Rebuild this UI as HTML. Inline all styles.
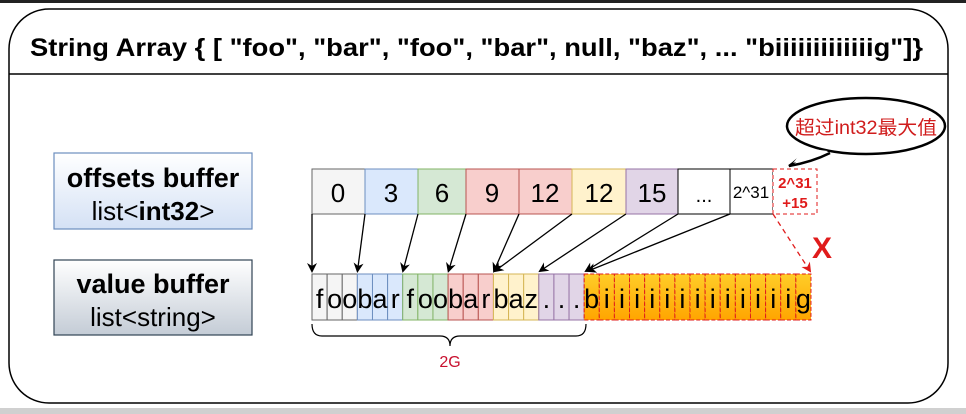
<!DOCTYPE html>
<html><head><meta charset="utf-8"><style>
html,body{margin:0;padding:0;background:#fff;}
svg{display:block;font-family:"Liberation Sans","Noto Sans CJK SC",sans-serif;}
</style></head><body>
<svg width="966" height="414" viewBox="0 0 966 414" xmlns="http://www.w3.org/2000/svg">
<defs>
<linearGradient id="gb" x1="0" y1="0" x2="0" y2="1"><stop offset="0" stop-color="#ffffff"/><stop offset="1" stop-color="#d4e1f5"/></linearGradient>
<linearGradient id="gg" x1="0" y1="0" x2="0" y2="1"><stop offset="0" stop-color="#ffffff"/><stop offset="1" stop-color="#c4ccd6"/></linearGradient>
<linearGradient id="go" x1="0" y1="0" x2="0" y2="1"><stop offset="0" stop-color="#ffcd28"/><stop offset="1" stop-color="#ffa500"/></linearGradient>
<marker id="ah" markerWidth="10" markerHeight="10" refX="8" refY="5" orient="auto" markerUnits="userSpaceOnUse"><path d="M0,0 L10,5 L0,10 L3,5 Z" fill="#000"/></marker>
<marker id="ahr" markerWidth="10" markerHeight="10" refX="8" refY="5" orient="auto" markerUnits="userSpaceOnUse"><path d="M0,0 L10,5 L0,10 L3,5 Z" fill="#e01b1b"/></marker>
</defs>
<rect x="0" y="0" width="966" height="3" fill="#222"/>
<rect x="0" y="408" width="966" height="6" fill="#d0d0d0"/>
<rect x="9" y="9" width="939" height="394" rx="40" ry="40" fill="#fff" stroke="#000" stroke-width="1.5"/>
<line x1="9" y1="74" x2="948" y2="74" stroke="#000" stroke-width="1.5"/>
<text x="30" y="56" font-size="25" font-weight="bold" textLength="893" lengthAdjust="spacingAndGlyphs">String Array  { [ "foo", "bar", "foo", "bar", null, "baz", ... "biiiiiiiiiiiiig"]}</text>

<!-- left boxes -->
<rect x="54" y="153" width="198" height="76" fill="url(#gb)" stroke="#6c8ebf" stroke-width="1.2"/>
<text x="153" y="187" font-size="27" font-weight="bold" text-anchor="middle">offsets buffer</text>
<text x="153" y="220" font-size="26" text-anchor="middle">list&lt;<tspan font-weight="bold">int32</tspan>&gt;</text>
<rect x="54" y="260" width="198" height="75" fill="url(#gg)" stroke="#314354" stroke-width="1.2"/>
<text x="153" y="293" font-size="27" font-weight="bold" text-anchor="middle">value buffer</text>
<text x="153" y="326" font-size="26" text-anchor="middle">list&lt;string&gt;</text>

<!-- offsets -->
<g font-size="26" text-anchor="middle">
<rect x="312" y="169" width="53" height="45" fill="#f5f5f5" stroke="#666"/><text x="338" y="202">0</text>
<rect x="365" y="169" width="53" height="45" fill="#dae8fc" stroke="#6c8ebf"/><text x="391" y="202">3</text>
<rect x="418" y="169" width="48" height="45" fill="#d5e8d4" stroke="#82b366"/><text x="442" y="202">6</text>
<rect x="466" y="169" width="53" height="45" fill="#f8cecc" stroke="#b85450"/><text x="492" y="202">9</text>
<rect x="519" y="169" width="53" height="45" fill="#f8cecc" stroke="#b85450"/><text x="545" y="202">12</text>
<rect x="572" y="169" width="54" height="45" fill="#fff2cc" stroke="#d6b656"/><text x="599" y="202">12</text>
<rect x="626" y="169" width="52" height="45" fill="#e1d5e7" stroke="#9673a6"/><text x="652" y="202">15</text>
<rect x="678" y="169" width="52" height="45" fill="#fff" stroke="#000"/><text x="704" y="202" font-size="20">...</text>
<rect x="730" y="169" width="43" height="45" fill="#fff" stroke="#000"/><text x="751" y="198" font-size="17">2^31</text>
</g>
<rect x="773" y="169" width="44" height="45" fill="#fff" stroke="#e01b1b" stroke-dasharray="4,3"/>
<text x="795" y="188" font-size="15" font-weight="bold" fill="#e01b1b" text-anchor="middle">2^31</text>
<text x="795" y="208" font-size="15" font-weight="bold" fill="#e01b1b" text-anchor="middle">+15</text>

<!-- values -->
<g font-size="27" text-anchor="middle">
<g fill="#f5f5f5" stroke="#666"><rect x="312" y="274" width="15.12" height="46"/><rect x="327.12" y="274" width="15.12" height="46"/><rect x="342.24" y="274" width="15.12" height="46"/></g>
<g fill="#dae8fc" stroke="#6c8ebf"><rect x="357.36" y="274" width="15.12" height="46"/><rect x="372.48" y="274" width="15.12" height="46"/><rect x="387.6" y="274" width="15.12" height="46"/></g>
<g fill="#d5e8d4" stroke="#82b366"><rect x="402.72" y="274" width="15.12" height="46"/><rect x="417.84" y="274" width="15.12" height="46"/><rect x="432.96" y="274" width="15.12" height="46"/></g>
<g fill="#f8cecc" stroke="#b85450"><rect x="448.08" y="274" width="15.12" height="46"/><rect x="463.2" y="274" width="15.12" height="46"/><rect x="478.32" y="274" width="15.12" height="46"/></g>
<g fill="#fff2cc" stroke="#d6b656"><rect x="493.44" y="274" width="15.12" height="46"/><rect x="508.56" y="274" width="15.12" height="46"/><rect x="523.68" y="274" width="15.12" height="46"/></g>
<g fill="#e1d5e7" stroke="#9673a6"><rect x="538.8" y="274" width="15.12" height="46"/><rect x="553.92" y="274" width="15.12" height="46"/><rect x="569.04" y="274" width="15.12" height="46"/></g>
<g fill="url(#go)" stroke="#e01b1b" stroke-dasharray="4,2">
<rect x="584.16" y="274" width="15.12" height="46"/><rect x="599.28" y="274" width="15.12" height="46"/><rect x="614.4" y="274" width="15.12" height="46"/><rect x="629.52" y="274" width="15.12" height="46"/><rect x="644.64" y="274" width="15.12" height="46"/><rect x="659.76" y="274" width="15.12" height="46"/><rect x="674.88" y="274" width="15.12" height="46"/><rect x="690" y="274" width="15.12" height="46"/><rect x="705.12" y="274" width="15.12" height="46"/><rect x="720.24" y="274" width="15.12" height="46"/><rect x="735.36" y="274" width="15.12" height="46"/><rect x="750.48" y="274" width="15.12" height="46"/><rect x="765.6" y="274" width="15.12" height="46"/><rect x="780.72" y="274" width="15.12" height="46"/><rect x="795.84" y="274" width="15.12" height="46"/>
</g>
<text y="308"><tspan x="319.6">f</tspan><tspan x="334.7">o</tspan><tspan x="349.8">o</tspan><tspan x="364.9">b</tspan><tspan x="380">a</tspan><tspan x="395.2">r</tspan><tspan x="410.3">f</tspan><tspan x="425.4">o</tspan><tspan x="440.5">o</tspan><tspan x="455.6">b</tspan><tspan x="470.8">a</tspan><tspan x="485.9">r</tspan><tspan x="501">b</tspan><tspan x="516.1">a</tspan><tspan x="531.2">z</tspan><tspan x="546.4">.</tspan><tspan x="561.5">.</tspan><tspan x="576.6">.</tspan><tspan x="591.7">b</tspan><tspan x="606.8">i</tspan><tspan x="622">i</tspan><tspan x="637.1">i</tspan><tspan x="652.2">i</tspan><tspan x="667.3">i</tspan><tspan x="682.4">i</tspan><tspan x="697.6">i</tspan><tspan x="712.7">i</tspan><tspan x="727.8">i</tspan><tspan x="742.9">i</tspan><tspan x="758">i</tspan><tspan x="773.2">i</tspan><tspan x="788.3">i</tspan><tspan x="803.4">g</tspan></text>
</g>

<!-- arrows -->
<g stroke="#000" stroke-width="1.3" fill="none" marker-end="url(#ah)">
<line x1="312" y1="214" x2="312" y2="271"/>
<line x1="365" y1="214" x2="357.5" y2="271"/>
<line x1="418" y1="214" x2="403" y2="271"/>
<line x1="466" y1="214" x2="448.5" y2="271"/>
<line x1="519" y1="214" x2="494" y2="271"/>
<line x1="572" y1="214" x2="495" y2="271"/>
<line x1="626" y1="214" x2="540" y2="271"/>
<line x1="678" y1="214" x2="586" y2="271"/>
<line x1="730" y1="214" x2="588" y2="271"/>
</g>
<line x1="773" y1="214" x2="810" y2="271" stroke="#e01b1b" stroke-width="1.3" stroke-dasharray="5,4" marker-end="url(#ahr)"/>
<text x="822" y="258" font-size="30" font-weight="bold" fill="#e01b1b" text-anchor="middle">X</text>

<!-- brace -->
<path d="M312,324 Q312,336 322,336 L440,336 Q450,336 450,346 Q450,336 460,336 L576,336 Q586,336 586,324" stroke="#000" stroke-width="1.2" fill="none"/>
<text x="450" y="367" font-size="16" fill="#c8102e" text-anchor="middle">2G</text>

<!-- callout -->
<path d="M806,150 Q798,160 789,166 Q812,162 830,153" fill="#fff" stroke="#000" stroke-width="2.5"/>
<ellipse cx="866" cy="126" rx="79" ry="28" fill="#fff" stroke="#000" stroke-width="2.5"/>
<path d="M803,148 Q798,157 793,163 Q810,158 828,151 Z" fill="#fff"/>
<text x="866" y="134" font-size="19" fill="#d01c1c" text-anchor="middle" textLength="142" lengthAdjust="spacingAndGlyphs">超过int32最大值</text>
</svg>
</body></html>
